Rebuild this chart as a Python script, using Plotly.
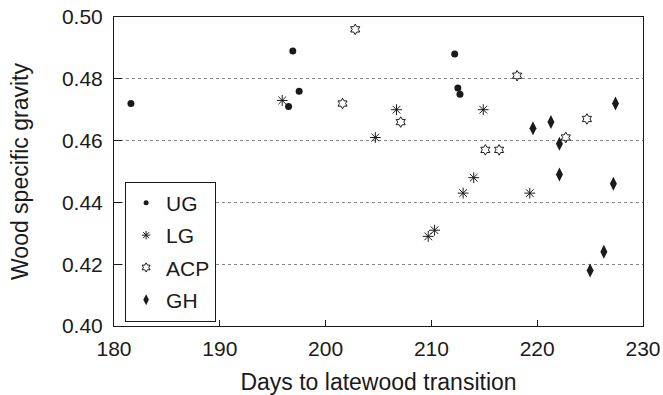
import plotly.graph_objects as go

# Data
ug_days = [181.6, 196.5, 196.9, 197.5, 212.2, 212.5, 212.7]
ug_sg = [0.472, 0.471, 0.489, 0.476, 0.488, 0.477, 0.475]

lg_days = [195.9, 204.7, 206.7, 209.7, 210.3, 213.0, 214.0, 214.9, 219.3]
lg_sg = [0.473, 0.461, 0.470, 0.429, 0.431, 0.443, 0.448, 0.470, 0.443]

acp_days = [201.6, 202.8, 207.1, 215.1, 216.4, 218.1, 222.7, 224.7]
acp_sg = [0.472, 0.496, 0.466, 0.457, 0.457, 0.481, 0.461, 0.467]

gh_days = [219.6, 221.3, 222.1, 222.1, 225.0, 226.3, 227.2, 227.4]
gh_sg = [0.464, 0.466, 0.459, 0.449, 0.418, 0.424, 0.446, 0.472]

series_names = ["UG", "LG", "ACP", "GH"]
x_ticks = [180, 190, 200, 210, 220, 230]
y_ticks = [0.40, 0.42, 0.44, 0.46, 0.48, 0.50]

FONT = "Liberation Sans, Arial, sans-serif"
INK = "#1a1a1a"

styles = {
    "UG": dict(symbol="circle", size=7, color=INK),
    "LG": dict(symbol="asterisk-open", size=9, color=INK, line=dict(color=INK, width=1)),
    "ACP": dict(symbol="hexagram-open", size=8, color=INK, line=dict(color=INK, width=1)),
    "GH": dict(symbol="diamond-tall", size=10, color=INK),
}
legend_styles = {
    "UG": dict(symbol="circle", size=5, color=INK),
    "LG": dict(symbol="asterisk-open", size=7, color=INK, line=dict(color=INK, width=1)),
    "ACP": dict(symbol="hexagram-open", size=7, color=INK, line=dict(color=INK, width=1)),
    "GH": dict(symbol="diamond-tall", size=8, color=INK),
}
data = {"UG": (ug_days, ug_sg), "LG": (lg_days, lg_sg),
        "ACP": (acp_days, acp_sg), "GH": (gh_days, gh_sg)}

fig = go.Figure()
for name in series_names:
    xs, ys = data[name]
    fig.add_trace(go.Scatter(x=xs, y=ys, mode="markers", name=name,
                             legendgroup=name, showlegend=False,
                             marker=styles[name]))
for name in series_names:
    fig.add_trace(go.Scatter(x=[None], y=[None], mode="markers", name=name,
                             legendgroup=name, showlegend=True,
                             marker=legend_styles[name]))

fig.update_layout(
    width=663, height=395,
    margin=dict(l=114, r=20, t=17, b=69, autoexpand=False),
    paper_bgcolor="white", plot_bgcolor="white",
    font=dict(family=FONT, size=21, color=INK),
    showlegend=True,
    legend=dict(x=0.021, y=0.467, xanchor="left", yanchor="top",
                bgcolor="white", bordercolor=INK, borderwidth=1,
                font=dict(size=21), tracegroupgap=2, itemwidth=30),
)
fig.update_xaxes(
    range=[180, 230], tickvals=x_ticks, ticktext=[str(v) for v in x_ticks],
    ticks="inside", ticklen=6, tickcolor=INK, showline=True, linecolor=INK,
    linewidth=1, mirror=True, showgrid=False, zeroline=False, automargin=False,
    ticklabelstandoff=4,
    title=dict(text="Days to latewood transition", font=dict(size=23), standoff=14),
)
fig.update_yaxes(
    range=[0.40, 0.50], tickvals=y_ticks, ticktext=[f"{v:.2f}" for v in y_ticks],
    ticks="inside", ticklen=8, tickcolor=INK, showline=True, linecolor=INK,
    linewidth=1, mirror=True, showgrid=True, gridcolor="#888888",
    griddash="3px,3px", gridwidth=1, zeroline=False, automargin=False,
    ticklabelstandoff=6,
    title=dict(text="Wood specific gravity", font=dict(size=23), standoff=26),
)

fig.write_html("out.html")
